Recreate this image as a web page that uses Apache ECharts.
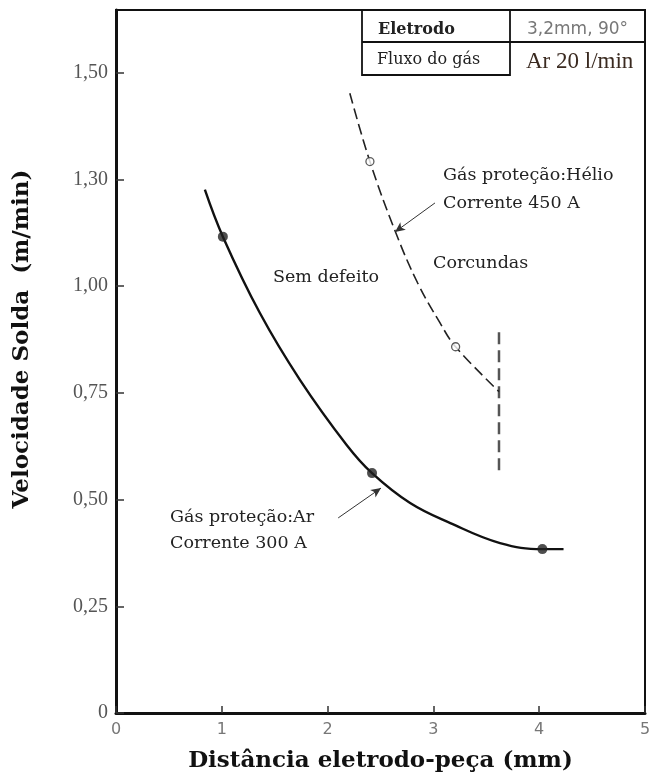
<!DOCTYPE html>
<html>
<head>
<meta charset="utf-8">
<script src="https://cdn.jsdelivr.net/npm/echarts@6/dist/echarts.min.js"></script>
<style>
  html, body { margin: 0; padding: 0; background: #fff; }
  #chart { width: 649px; height: 778px; }
</style>
</head>
<body>
<div id="chart"></div>
<script>
// Argon shielding, 300 A: welding speed vs electrode-to-work distance
const argonCurve = [
  [0.84, 1.226], [1.01, 1.116], [1.36, 0.937], [1.74, 0.780], [2.18, 0.628],
  [2.42, 0.562], [2.78, 0.492], [3.16, 0.445], [3.63, 0.398], [4.03, 0.384], [4.23, 0.384]
];
const argonPoints = [[1.01, 1.116], [2.42, 0.562], [4.03, 0.384]];

// Helium shielding, 450 A: humping limit
const heliumCurve = [
  [2.21, 1.452], [2.40, 1.292], [2.64, 1.128], [2.85, 1.008], [3.06, 0.915],
  [3.21, 0.858], [3.62, 0.753]
];
const heliumPoints = [[2.40, 1.292], [3.21, 0.858]];

// vertical limit line at the end of the helium curve
const limitLine = [[3.62, 0.569], [3.62, 0.898]];

// arrows linking the annotations to their curves
const heliumArrow = [[3.015, 1.195], [2.637, 1.127]];
const argonArrow = [[2.10, 0.457], [2.505, 0.527]];

const xTicks = [0, 1, 2, 3, 4, 5];
const yTickLabels = ['0', '0,25', '0,50', '0,75', '1,00', '1,30', '1,50'];

const serif = '"DejaVu Serif", "Liberation Serif", serif';
const ink = '#111';
const textInk = '#222';

const chart = echarts.init(document.getElementById('chart'), null, { renderer: 'canvas' });

chart.setOption({
  backgroundColor: '#fff',
  animation: false,
  grid: {
    left: 116, right: 4, top: 10, bottom: 65,
    outerBoundsMode: 'none', containLabel: false,
    show: true, borderColor: ink, borderWidth: 2, backgroundColor: 'transparent'
  },
  xAxis: {
    type: 'value', min: 0, max: 5, interval: 1,
    name: 'Distância eletrodo-peça (mm)',
    nameLocation: 'middle', nameGap: 37,
    nameTextStyle: { fontFamily: serif, fontWeight: 'bold', fontSize: 23, color: ink },
    axisLine: { lineStyle: { color: ink, width: 3 } },
    axisTick: { inside: true, length: 7, lineStyle: { color: '#333', width: 1.5 } },
    splitLine: { show: false },
    axisLabel: {
      margin: 9, fontFamily: '"DejaVu Sans", sans-serif', fontSize: 16, color: '#777',
      formatter: v => xTicks.includes(v) ? String(v) : ''
    }
  },
  yAxis: {
    type: 'value', min: 0, max: 1.647, interval: 0.25,
    axisLine: { lineStyle: { color: ink, width: 3 } },
    axisTick: { inside: true, length: 8, lineStyle: { color: '#333', width: 1.5 } },
    splitLine: { show: false },
    axisLabel: {
      margin: 8, fontFamily: '"Liberation Serif", serif', fontSize: 20, color: '#555',
      showMaxLabel: false,
      formatter: v => {
        const i = Math.round(v / 0.25);
        return Math.abs(i * 0.25 - v) < 1e-6 && yTickLabels[i] !== undefined ? yTickLabels[i] : '';
      }
    }
  },
  series: [
    {
      name: 'Ar 300 A', type: 'line', data: argonCurve, smooth: 0.4,
      showSymbol: false, lineStyle: { color: ink, width: 2.4 }, z: 3,
      markLine: {
        silent: true, symbol: ['none', 'arrow'], symbolSize: [7, 10],
        label: { show: false },
        lineStyle: { color: '#333', width: 1, type: 'solid' },
        data: [[{ coord: argonArrow[0] }, { coord: argonArrow[1] }]]
      }
    },
    {
      name: 'Ar pontos', type: 'scatter', data: argonPoints,
      symbol: 'circle', symbolSize: 10, itemStyle: { color: '#222' }, z: 4
    },
    {
      name: 'He 450 A', type: 'line', data: heliumCurve, smooth: 0.4,
      showSymbol: false, lineStyle: { color: '#222', width: 1.6, type: [11, 5] }, z: 3,
      markLine: {
        silent: true, symbol: ['none', 'arrow'], symbolSize: [7, 10],
        label: { show: false },
        lineStyle: { color: '#333', width: 1, type: 'solid' },
        data: [[{ coord: heliumArrow[0] }, { coord: heliumArrow[1] }]]
      }
    },
    {
      name: 'He pontos', type: 'scatter', data: heliumPoints,
      symbol: 'circle', symbolSize: 8,
      itemStyle: { color: '#fff', borderColor: '#333', borderWidth: 1.3 }, z: 4
    },
    {
      name: 'Limite', type: 'line', data: limitLine, showSymbol: false,
      lineStyle: { color: '#555', width: 2.5, type: [12, 6] }, z: 2
    }
  ],
  graphic: [
    // vertical axis title
    {
      type: 'text', x: 22, y: 339, rotation: Math.PI / 2,
      style: {
        text: 'Velocidade Solda  (m/min)', font: 'bold 23px ' + serif, fill: ink,
        align: 'center', verticalAlign: 'middle'
      }
    },

    // parameters table in the upper-right corner
    { type: 'line', shape: { x1: 362, y1: 10, x2: 362, y2: 76 }, style: { stroke: ink, lineWidth: 1.8 } },
    { type: 'line', shape: { x1: 510, y1: 10, x2: 510, y2: 76 }, style: { stroke: ink, lineWidth: 1.8 } },
    { type: 'line', shape: { x1: 362, y1: 42, x2: 645, y2: 42 }, style: { stroke: ink, lineWidth: 1.8 } },
    { type: 'line', shape: { x1: 362, y1: 75, x2: 510, y2: 75 }, style: { stroke: ink, lineWidth: 1.8 } },
    { type: 'text', x: 378, y: 30, style: { text: 'Eletrodo', font: '600 16px ' + serif, fill: textInk, verticalAlign: 'middle' } },
    { type: 'text', x: 377, y: 60, style: { text: 'Fluxo do gás', font: '16px ' + serif, fill: textInk, verticalAlign: 'middle' } },
    { type: 'text', x: 527, y: 30, style: { text: '3,2mm, 90°', font: '17px "DejaVu Sans", sans-serif', fill: '#777', verticalAlign: 'middle' } },
    { type: 'text', x: 526, y: 62, style: { text: 'Ar 20 l/min', font: '23px "Liberation Serif", serif', fill: '#3a2a20', verticalAlign: 'middle' } },

    // region and curve annotations
    { type: 'text', x: 273, y: 277, style: { text: 'Sem defeito', font: '17.5px ' + serif, fill: textInk, verticalAlign: 'middle' } },
    { type: 'text', x: 433, y: 263, style: { text: 'Corcundas', font: '17.5px ' + serif, fill: textInk, verticalAlign: 'middle' } },
    { type: 'text', x: 443, y: 175, style: { text: 'Gás proteção:Hélio', font: '17.5px ' + serif, fill: textInk, verticalAlign: 'middle' } },
    { type: 'text', x: 443, y: 203, style: { text: 'Corrente 450 A', font: '17.5px ' + serif, fill: textInk, verticalAlign: 'middle' } },
    { type: 'text', x: 170, y: 517, style: { text: 'Gás proteção:Ar', font: '17.5px ' + serif, fill: textInk, verticalAlign: 'middle' } },
    { type: 'text', x: 170, y: 543, style: { text: 'Corrente 300 A', font: '17.5px ' + serif, fill: textInk, verticalAlign: 'middle' } }
  ]
});
</script>
</body>
</html>
